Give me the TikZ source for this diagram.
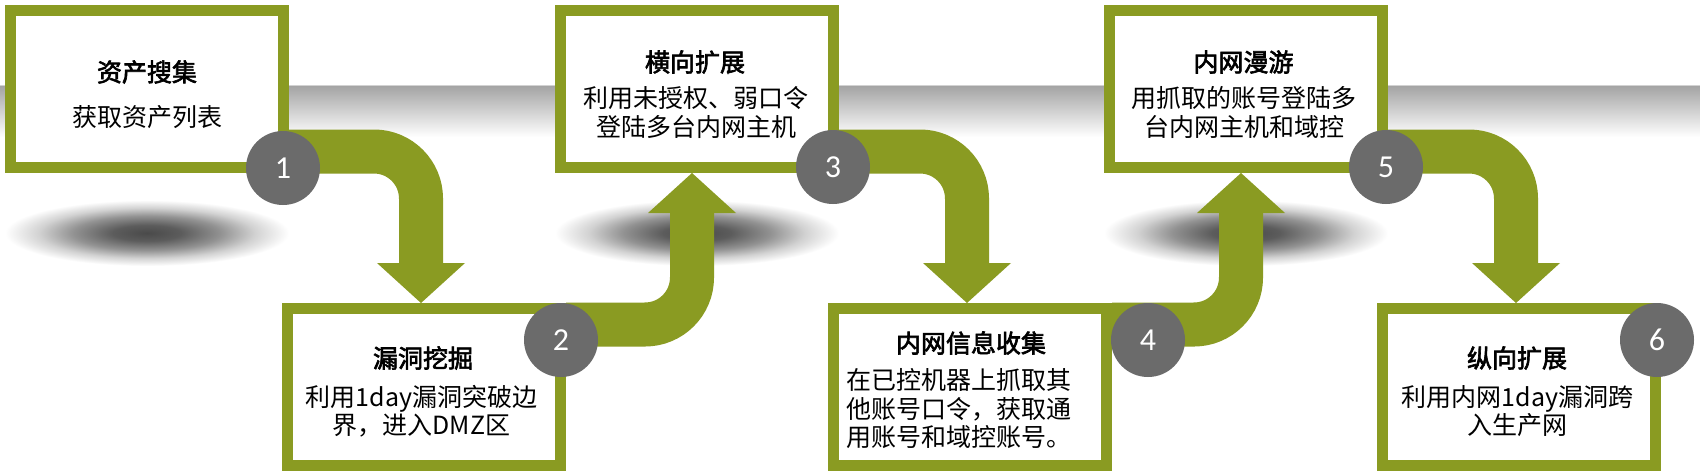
\documentclass[tikz,border=0pt]{standalone}
\usepackage{fontspec}
\usetikzlibrary{calc}
\newfontfamily\cjk{Noto Sans CJK SC}[AutoFakeBold=2.5]
\newfontfamily\digitfont{Carlito}
\definecolor{arrowgreen}{HTML}{8A9B22}
\definecolor{circgray}{HTML}{6B6B6B}
\definecolor{shd}{HTML}{4A4A4A}
\definecolor{bandtop}{HTML}{A4A4A4}
\definecolor{bandline}{HTML}{D2D2D2}
\pgfdeclareradialshading{blob}{\pgfpoint{0bp}{0bp}}{color(0bp)=(shd);color(6bp)=(shd!90!white);color(13bp)=(shd!60!white);color(19bp)=(shd!25!white);color(25bp)=(white);color(50bp)=(white)}
\pgfdeclarelayer{bg}
\pgfsetlayers{bg,main}
\tikzset{
  box/.style={draw=arrowgreen, line width=11pt, fill=white, minimum width=273pt, minimum height=157pt, inner sep=0pt, outer sep=5.5pt},
  num/.style={circle, fill=circgray, minimum size=74pt, inner sep=0pt, text=white, font=\digitfont\fontsize{32}{32}\selectfont},
  band/.style={draw=arrowgreen, line width=44pt, rounded corners=47pt},
  head/.style={fill=arrowgreen},
  ttl/.style={font=\cjk\bfseries\fontsize{25}{29}\selectfont, inner sep=0pt},
  bdy/.style={font=\cjk\fontsize{25}{28.5}\selectfont, inner sep=0pt, align=center}
}
\begin{document}
\begin{tikzpicture}[x=1pt,y=-1pt]
\useasboundingbox (0,0) rectangle (1700,475);
% boxes
\node[box] (B1) at (147,89) {};
\node[box] (B3) at (697,89) {};
\node[box] (B5) at (1246,89) {};
\node[box] (B2) at (424,387) {};
\node[box] (B4) at (970,387) {};
\node[box] (B6) at (1519,387) {};
% texts
\node[ttl] (T1) at (147,72) {资产搜集};
\node[bdy] (D1) at (147,117) {获取资产列表};
\node[ttl] (T2) at (423,358) {漏洞挖掘};
\node[bdy] (D2) at (421.5,411) {利用1day漏洞突破边\\界，进入DMZ区};
\node[ttl] (T3) at (695,62) {横向扩展};
\node[bdy] (D3) at (696,112.5) {利用未授权、弱口令\\登陆多台内网主机};
\node[ttl] (T4) at (971,343) {内网信息收集};
\node[bdy, align=left, anchor=west] (D4) at (846.6,409) {在已控机器上抓取其\\他账号口令，获取通\\用账号和域控账号。};
\node[ttl] (T5) at (1243.5,62) {内网漫游};
\node[bdy] (D5) at (1244,112.5) {用抓取的账号登陆多\\台内网主机和域控};
\node[ttl] (T6) at (1517,358) {纵向扩展};
\node[bdy] (D6) at (1517.5,411) {利用内网1day漏洞跨\\入生产网};
% circles
\node[num] (C1) at (283,168) {1};
\node[num] (C2) at (561,340) {2};
\node[num] (C3) at (833,167) {3};
\node[num] (C4) at (1148,340) {4};
\node[num] (C5) at (1386,167) {5};
\node[num] (C6) at (1657,340) {6};
\begin{pgfonlayer}{bg}
  \fill[white] (0,0) rectangle (1700,475);
  \shade[top color=bandtop, bottom color=white] (0,86) rectangle (1700,137);
  \draw[bandline, line width=1.5pt] (0,85.5) -- (1700,85.5);
  \shade[shading=blob] (147,233) ellipse [x radius=142pt, y radius=33pt];
  \shade[shading=blob] (697,233) ellipse [x radius=142pt, y radius=33pt];
  \shade[shading=blob] (1246,233) ellipse [x radius=142pt, y radius=33pt];
  % arrow 1
  \draw[band] ($(B1.south east)+(0,-21.5)$) -| ($(B2.north)+(-3,-39)$);
  \fill[head] ($(B2.north)+(-47,-40)$) -- ($(B2.north)+(41,-40)$) -- ($(B2.north)+(-3,0)$) -- cycle;
  % arrow 2
  \draw[band] ($(B2.north east)+(0,21.5)$) -| ($(B3.south)+(-5,39)$);
  \fill[head] ($(B3.south)+(-49,40)$) -- ($(B3.south)+(39,40)$) -- ($(B3.south)+(-5,0)$) -- cycle;
  % arrow 3
  \draw[band] ($(B3.south east)+(0,-21.5)$) -| ($(B4.north)+(-3,-39)$);
  \fill[head] ($(B4.north)+(-47,-40)$) -- ($(B4.north)+(41,-40)$) -- ($(B4.north)+(-3,0)$) -- cycle;
  % arrow 4
  \draw[band] ($(B4.north east)+(0,21.5)$) -| ($(B5.south)+(-5,39)$);
  \fill[head] ($(B5.south)+(-49,40)$) -- ($(B5.south)+(39,40)$) -- ($(B5.south)+(-5,0)$) -- cycle;
  % arrow 5
  \draw[band] ($(B5.south east)+(0,-21.5)$) -| ($(B6.north)+(-3,-39)$);
  \fill[head] ($(B6.north)+(-47,-40)$) -- ($(B6.north)+(41,-40)$) -- ($(B6.north)+(-3,0)$) -- cycle;
\end{pgfonlayer}
\end{tikzpicture}
\end{document}
